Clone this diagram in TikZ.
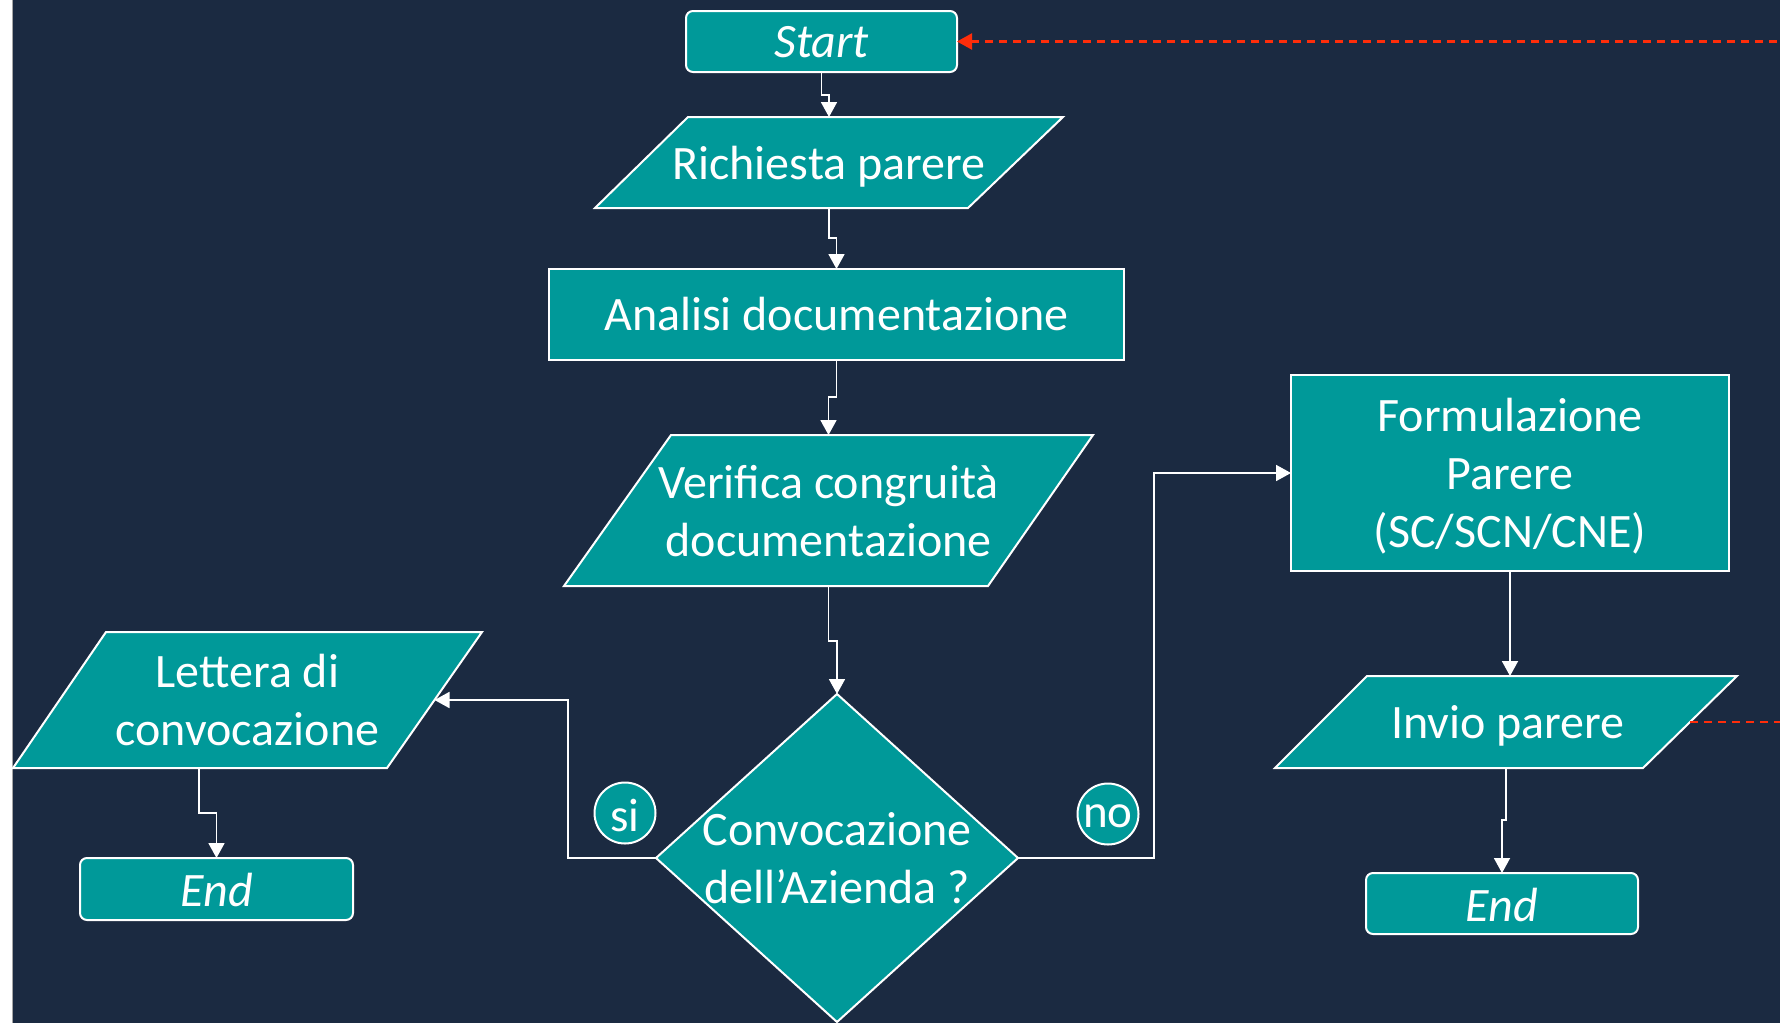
\documentclass[tikz,border=0pt]{standalone}
\usepackage{fontspec}
\setmainfont{Carlito}
\usetikzlibrary{arrows.meta,calc}
\definecolor{bgnavy}{HTML}{1B2A41}
\definecolor{tealfill}{HTML}{009999}
\definecolor{reddash}{HTML}{FF2D0A}
\tikzset{
  shapeline/.style={draw=white, line width=2pt, fill=tealfill, line join=miter},
  frame/.style={inner sep=0pt, outer sep=0pt},
  lab/.style={inner sep=0pt, outer sep=0pt, text=white, align=center, yshift=-1pt,
    font=\fontsize{48}{58}\selectfont},
  itlab/.style={lab, font=\fontsize{48}{58}\selectfont\itshape},
  termbox/.style={shapeline, frame, rounded corners=7pt},
  procbox/.style={shapeline, frame},
  flow/.style={draw=white, line width=1.8pt, -{Triangle[width=16pt,length=15pt]}},
  backflow/.style={draw=reddash, line width=2.4pt, dash pattern=on 8pt off 6pt},
  answer/.style={circle, draw=white, line width=2pt, fill=tealfill, minimum size=61pt,
    inner sep=0pt},
  anslab/.style={lab, yshift=-1pt, font=\fontsize{47}{56}\selectfont}
}
\begin{document}
\begin{tikzpicture}[x=1pt,y=-1pt]
\useasboundingbox (0,0) rectangle (1780,1023);
\fill[white] (0,0) rectangle (12,1023);
\fill[bgnavy] (12,0) rectangle (1780,1023);
\draw[line width=1pt, color=gray!70] (12.5,0) -- (12.5,1023);

% Start
\node[termbox, minimum width=271pt, minimum height=61pt,
  label={[itlab]center:Start}] (start) at (821.5,41.5) {};

% Richiesta parere (parallelogram)
\draw[shapeline] (688,117) -- (1063,117) -- (968,208) -- (595,208) -- cycle;
\node[frame, minimum width=468pt, minimum height=91pt,
  label={[lab, yshift=-3pt]center:Richiesta parere}] (rich) at (829,162.5) {};

% Analisi documentazione
\node[procbox, minimum width=575pt, minimum height=91pt,
  label={[lab, yshift=1pt]center:Analisi documentazione}] (ana) at (836.5,314.5) {};

% Verifica congruita (parallelogram)
\draw[shapeline] (671,435) -- (1093,435) -- (988,586) -- (564,586) -- cycle;
\node[frame, minimum width=529pt, minimum height=151pt,
  label={[lab]center:{Verifica congruità\\documentazione}}] (ver) at (828.5,510.5) {};

% Decision diamond
\draw[shapeline] (837,694) -- (1018,858) -- (837,1022) -- (656,858) -- cycle;
\node[frame, minimum width=362pt, minimum height=328pt,
  label={[lab, yshift=1pt]center:{Convocazione\\dell’Azienda ?}}] (dec) at (837,858) {};

% Lettera di convocazione (parallelogram)
\draw[shapeline] (106,632) -- (482,632) -- (387,768) -- (13,768) -- cycle;
\node[frame, minimum width=469pt, minimum height=136pt,
  label={[lab, yshift=1pt]center:{Lettera di\\convocazione}}] (let) at (247.5,700) {};
\coordinate (letR) at (434.5,700);
\coordinate (letB) at (199,768);

% End left
\node[termbox, minimum width=273pt, minimum height=62pt,
  label={[itlab]center:End}] (endL) at (216.5,889) {};

% Formulazione parere
\node[procbox, minimum width=438pt, minimum height=196pt,
  label={[lab, yshift=-2pt]center:{Formulazione\\Parere\\(SC/SCN/CNE)}}] (form) at (1510,473) {};

% Invio parere (parallelogram)
\draw[shapeline] (1367,676) -- (1737,676) -- (1643,768) -- (1275,768) -- cycle;
\node[frame, minimum width=462pt, minimum height=92pt,
  label={[lab, xshift=2pt, yshift=-3pt]center:Invio parere}] (inv) at (1506,722) {};
\coordinate (invR) at (1690,722);

% End right
\node[termbox, minimum width=272pt, minimum height=61pt,
  label={[itlab]center:End}] (endR) at (1502,903.5) {};

% answers
\node[answer, label={[anslab]center:si}] (si) at (625,813) {};
\node[answer, label={[anslab]center:no}] (no) at (1108,814) {};

% connectors
\draw[flow] (start.south) -- ++(0,23) -| (rich.north);
\draw[flow] (rich.south) -- ++(0,30) -| (ana.north);
\draw[flow] (ana.south) -- ++(0,37) -| (ver.north);
\draw[flow] (ver.south) -- ++(0,55) -| (dec.north);
\draw[flow] (dec.west) -- ++(-88,0) |- (letR);
\draw[flow] (letB) -- ++(0,45) -| (endL.north);
\draw[flow] (dec.east) -- ++(136,0) |- (form.west);
\draw[flow] (form.south) -- (form.south |- inv.north);
\draw[flow] (inv.south) -- ++(0,52) -| (endR.north);

% red dashed feedback lines
\coordinate (offTop) at (1780,41.5);
\coordinate (offInv) at (1780,722);
\draw[backflow, {Triangle[width=16pt,length=15pt]}-] (start.east) -- (offTop);
\draw[backflow] (invR) -- (offInv);
\end{tikzpicture}
\end{document}
